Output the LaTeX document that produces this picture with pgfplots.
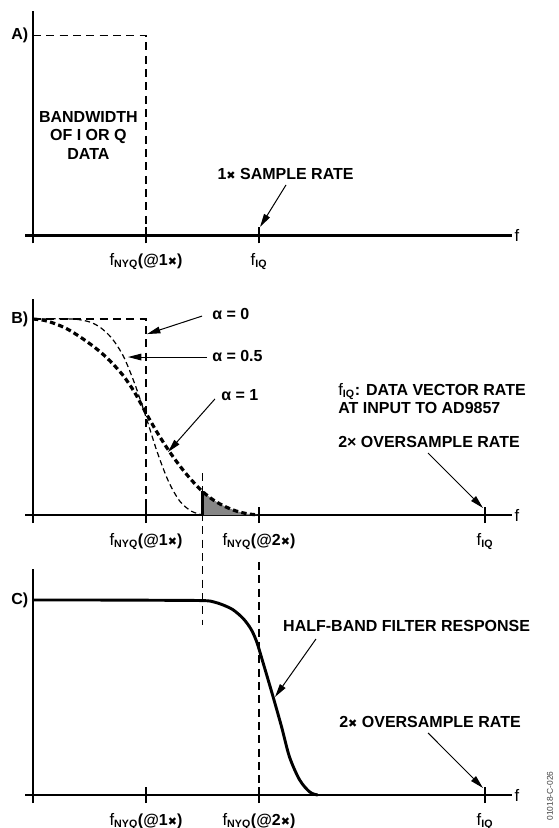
\documentclass[border=0pt]{standalone}
\usepackage{fontspec}
\setmainfont{Liberation Sans}
\newfontfamily\dv{DejaVu Sans}
\usepackage{pgfplots}
\pgfplotsset{compat=1.18}
\usetikzlibrary{arrows.meta}

\newcommand{\lbl}{\fontsize{12}{13.5}\selectfont\bfseries}
\newcommand{\hx}{{\dv\bfseries\fontsize{8.3}{8.3}\selectfont ✖}}
\newcommand{\fnyq}[1]{{\fontsize{12.5}{13}\selectfont\mdseries f}\textsubscript{NYQ}(@#1\hx)}
\newcommand{\fiq}{{\fontsize{12.5}{13}\selectfont\mdseries f}\textsubscript{IQ}}

\tikzset{
  ann/.style={-{Triangle[length=10pt,width=5pt]}, line width=0.75pt},
  txt/.style={font=\lbl, inner sep=0pt},
}
\pgfplotsset{
  panel/.style={
    x=84.75pt, xmin=-0.07, xmax=4.24, ymin=0,
    anchor=origin, clip=false,
    axis lines=middle,
    axis line style={-, line width=1.6pt},
    every inner x axis line/.append style={-},
    every inner y axis line/.append style={-},
    hide obscured x ticks=false,
    ytick=\empty,
    major tick length=12pt, tick align=center,
    tick style={line width=1.6pt, black},
    xticklabel style={font=\lbl, yshift=-4pt},
  },
}

\begin{document}
\begin{tikzpicture}
\useasboundingbox (0,0) rectangle (418.5pt,-621pt);

% ---- A) ----
\begin{axis}[panel, y=150pt, ymax=1.12, at={(24.75pt,-176.6pt)},
  xtick={0,1,2}, xticklabels={,\fnyq{1},\fiq}]
\addplot[black, line width=1.2pt, dash pattern=on 6pt off 4pt]
  coordinates {(0,1) (1,1) (1,0)};
\node[txt, anchor=east] at (axis cs:-0.04,1) {A)};
\node[inner sep=0pt, anchor=west] at (axis cs:4.26,0) {\fontsize{12.5}{12}\selectfont f};
\node[inner sep=0pt, align=center, font=\fontsize{12}{14}\selectfont\bfseries]
  at (axis cs:0.49,0.50) {BANDWIDTH\\OF I OR Q\\DATA};
\node[txt, anchor=base] at (axis cs:2.235,0.2775) {1\hx\ SAMPLE RATE};
\draw[ann] (axis cs:2.239,0.2525) -- (axis cs:2.009,0.0425);
\end{axis}

% ---- B) ----
\begin{axis}[panel, y=147pt, ymax=1.10, at={(24.75pt,-386.25pt)},
  xtick={0,1,2,4}, xticklabels={,\fnyq{1},\fnyq{2},\fiq}]
% shaded tail of alpha = 1
\addplot[fill=gray!95, draw=none]
  coordinates {(1.5,0) (1.5,0.12) (1.6,0.075) (1.7,0.043) (1.8,0.02) (1.9,0.006) (2,0)} -- cycle;
\addplot[black, line width=1.6pt] coordinates {(1.5,0) (1.5,0.12)};
% alpha = 0
\addplot[black, line width=0.8pt, dash pattern=on 6pt off 4pt]
  coordinates {(0,1) (1,1) (1,0)};
% alpha = 0.5
\addplot[black, line width=0.9pt, dash pattern=on 4pt off 2.5pt, smooth]
  coordinates {(0,1) (0.35,1) (0.5,0.985) (0.6,0.955) (0.7,0.90) (0.8,0.81)
    (0.9,0.67) (1.0,0.5) (1.1,0.32) (1.2,0.17) (1.3,0.07) (1.4,0.02) (1.5,0)};
% alpha = 1
\addplot[black, line width=2.4pt, dash pattern=on 4pt off 2.5pt, smooth]
  coordinates {(0,1) (0.1,0.993) (0.2,0.975) (0.3,0.95) (0.4,0.915) (0.5,0.875)
    (0.6,0.83) (0.7,0.775) (0.8,0.71) (0.9,0.625) (1.0,0.52) (1.1,0.42)
    (1.2,0.33) (1.3,0.25) (1.4,0.18) (1.5,0.12) (1.6,0.075) (1.7,0.043)
    (1.8,0.02) (1.9,0.006) (2.0,0)};
\node[txt, anchor=east] at (axis cs:-0.04,1) {B)};
\node[inner sep=0pt, anchor=west] at (axis cs:4.26,0) {\fontsize{12.5}{12}\selectfont f};
\node[txt, anchor=base west] at (axis cs:1.584,0.995) {α = 0};
\draw[ann] (axis cs:1.496,1.015) -- (axis cs:1.009,0.923);
\node[txt, anchor=base west] at (axis cs:1.584,0.781) {α = 0.5};
\draw[ann] (axis cs:1.54,0.806) -- (axis cs:0.841,0.806);
\node[txt, anchor=base west] at (axis cs:1.664,0.582) {α = 1};
\draw[ann] (axis cs:1.61,0.592) -- (axis cs:1.195,0.321);
\node[txt, anchor=base west] at (axis cs:2.699,0.612) {\fiq: DATA VECTOR RATE};
\node[txt, anchor=base west] at (axis cs:2.699,0.520) {AT INPUT TO AD9857};
\node[txt, anchor=base west] at (axis cs:2.699,0.342) {2× OVERSAMPLE RATE};
\draw[ann] (axis cs:3.496,0.316) -- (axis cs:3.982,0.036);
\end{axis}

% ---- C) ----
\begin{axis}[panel, y=146.25pt, ymax=1.16, at={(24.75pt,-596.25pt)},
  xtick={0,1,2,4}, xticklabels={,\fnyq{1},\fnyq{2},\fiq}]
\addplot[black, line width=1.1pt, dash pattern=on 6pt off 4pt]
  coordinates {(1.5,1.651) (1.5,0.872)};
\addplot[black, line width=1.1pt, dash pattern=on 6pt off 4pt]
  coordinates {(2,1.195) (2,0)};
\addplot[black, line width=2.2pt, smooth]
  coordinates {(0,1) (0.5,1) (1.0,0.999) (1.5,0.997) (1.6,0.99) (1.68,0.975)
    (1.77,0.95) (1.86,0.905) (1.93,0.85) (1.98,0.785) (2.03,0.69) (2.115,0.523)
    (2.2,0.349) (2.27,0.195) (2.36,0.077) (2.45,0.015) (2.52,0)};
\node[txt, anchor=east] at (axis cs:-0.04,1) {C)};
\node[inner sep=0pt, anchor=west] at (axis cs:4.26,0) {\fontsize{12.5}{12}\selectfont f};
\node[txt, anchor=base west] at (axis cs:2.212,0.836) {HALF-BAND FILTER RESPONSE};
\draw[ann] (axis cs:2.504,0.80) -- (axis cs:2.142,0.503);
\node[txt, anchor=base west] at (axis cs:2.708,0.344) {2\hx\ OVERSAMPLE RATE};
\draw[ann] (axis cs:3.496,0.318) -- (axis cs:3.982,0.036);
\node[inner sep=0pt, rotate=90, text=black!75, font=\fontsize{6.3}{7}\selectfont]
  at (axis cs:4.575,-0.005) {01018-C-026};
\end{axis}
\end{tikzpicture}
\end{document}
